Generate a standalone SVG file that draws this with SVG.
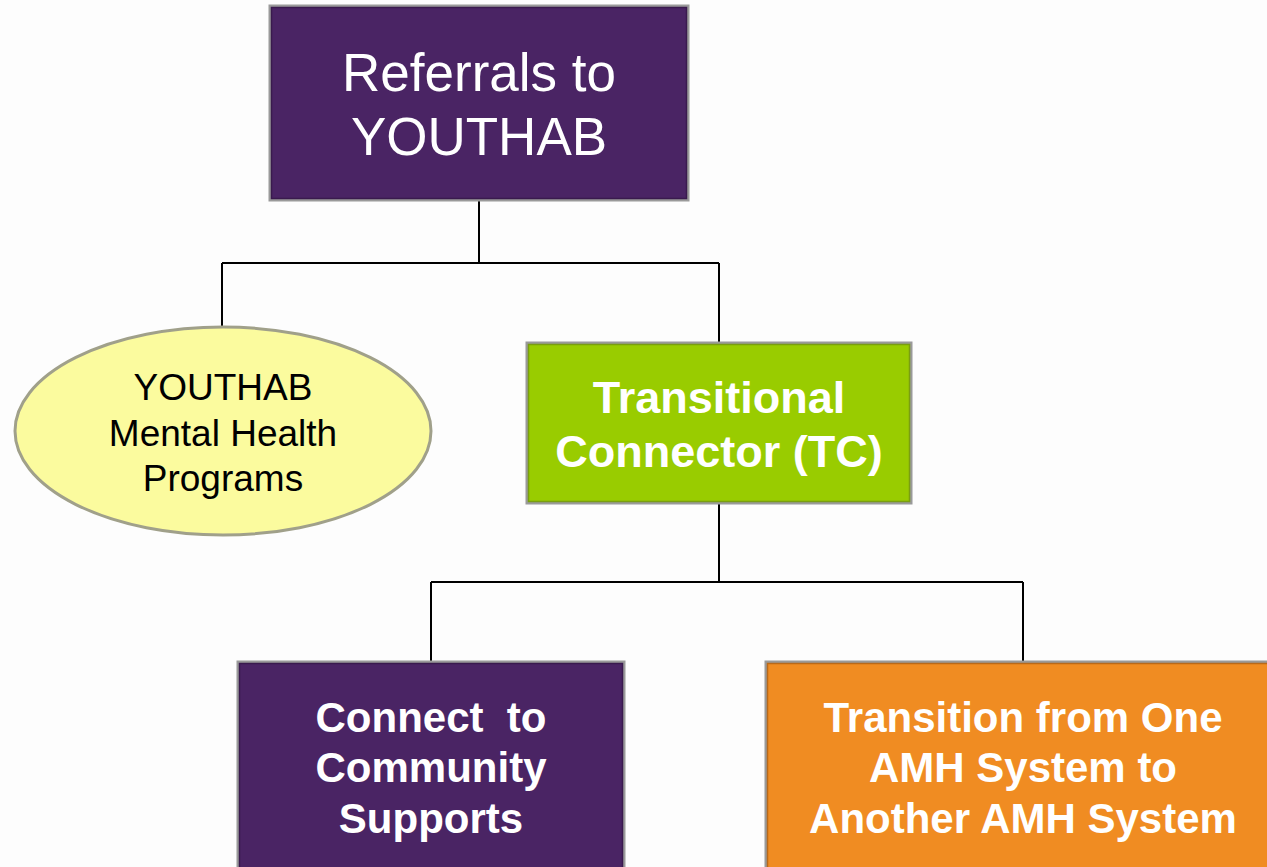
<svg xmlns="http://www.w3.org/2000/svg" width="1267" height="867" viewBox="0 0 1267 867">
<style>
.bg{fill:#fdfdfd}
.outer{fill:none;stroke:#9a9a9a;stroke-width:3}
.purple{fill:#4a2464;stroke:#3a1a4e;stroke-width:1.5}
.green{fill:#99cc00;stroke:#7a9e10;stroke-width:1.5}
.orange{fill:#f08c22;stroke:#b8691a;stroke-width:1.5}
.ell{fill:#fbfb9e;stroke:#a0a08a;stroke-width:3}
.conn{fill:none;stroke:#000;stroke-width:2}
.t{font-family:"Liberation Sans",Arial,sans-serif;text-anchor:middle}
.w{fill:#fff}
.b{font-weight:bold}
</style>
<rect class="bg" x="0" y="0" width="1267" height="867"/>
<g id="connectors">
<path class="conn" d="M479 200V263M222 263H719M222 263V327M719 263V343"/>
<path class="conn" d="M719 503V582M431 582H1023M431 582V662M1023 582V662"/>
</g>
<g id="referrals">
<rect class="outer" x="270" y="6" width="418" height="194"/>
<rect class="purple" x="271.5" y="7.5" width="415" height="191"/>
<text class="t w" font-size="53"><tspan x="479" y="91">Referrals to</tspan><tspan x="479" y="155">YOUTHAB</tspan></text>
</g>
<g id="youthab-programs">
<ellipse class="ell" cx="223" cy="431" rx="208" ry="104"/>
<text class="t" font-size="37" fill="#000"><tspan x="223" y="400">YOUTHAB</tspan><tspan x="223" y="446">Mental Health</tspan><tspan x="223" y="491">Programs</tspan></text>
</g>
<g id="tc">
<rect class="outer" x="527" y="343" width="384" height="160"/>
<rect class="green" x="528.5" y="344.5" width="381" height="157"/>
<text class="t w b" font-size="45"><tspan x="719" y="413">Transitional</tspan><tspan x="719" y="467">Connector (TC)</tspan></text>
</g>
<g id="community">
<rect class="outer" x="238" y="662" width="386" height="210"/>
<rect class="purple" x="239.5" y="663.5" width="383" height="210"/>
<text class="t w b" font-size="42" xml:space="preserve"><tspan x="431" y="732">Connect  to</tspan><tspan x="431" y="782">Community</tspan><tspan x="431" y="833">Supports</tspan></text>
</g>
<g id="transition">
<rect class="outer" x="766" y="662" width="510" height="210"/>
<rect class="orange" x="767.5" y="663.5" width="510" height="210"/>
<text class="t w b" font-size="42"><tspan x="1023" y="732">Transition from One</tspan><tspan x="1023" y="782">AMH System to</tspan><tspan x="1023" y="833">Another AMH System</tspan></text>
</g>
</svg>
